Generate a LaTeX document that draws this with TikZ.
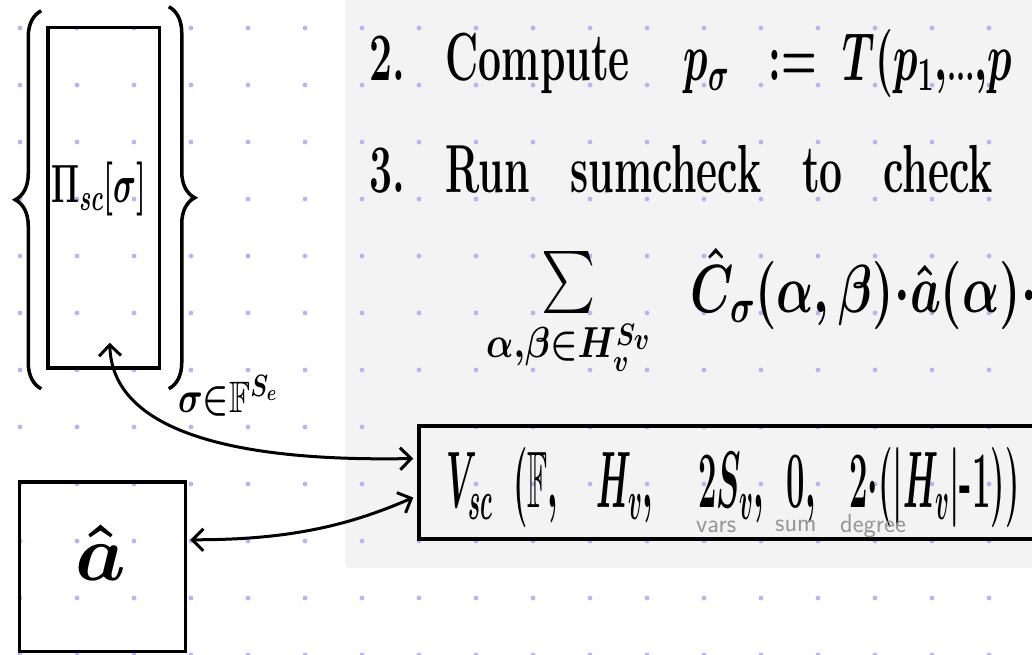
\documentclass[tikz,border=0pt]{standalone}
\usepackage{fix-cm}
\usepackage{amssymb}
\usetikzlibrary{arrows.meta, decorations.pathreplacing}

\definecolor{dotblue}{RGB}{182,182,245}
\definecolor{panelgray}{RGB}{243,243,243}
\definecolor{notegray}{RGB}{150,150,150}

\tikzstyle{box} = [
    rectangle,
    draw=black,
    line width=3.5pt,
    inner sep=0pt
]
\tikzstyle{hand} = [
    inner sep=0pt,
    anchor=base west,
    font={\fontsize{68}{68}\selectfont\bfseries\boldmath\spaceskip=1em\xspaceskip=1em\relax}
]
\tikzstyle{note} = [
    inner sep=0pt,
    anchor=base west,
    text=notegray,
    font={\fontsize{26}{26}\selectfont\sffamily}
]
\tikzstyle{curly} = [
    line width=3.5pt,
    decorate,
    decoration={brace, amplitude=26pt}
]
\tikzstyle{arrow} = [line width=3pt, line cap=round,
    {Straight Barb[length=11pt, width=22pt]}-{Straight Barb[length=11pt, width=22pt]}]

\begin{document}
\begin{tikzpicture}[x=1pt, y=-1pt]

\useasboundingbox (0,0) rectangle (1032,654);
\clip (0,0) rectangle (1032,654);

% paper, panel and dot grid
\fill[white] (0,0) rectangle (1032,654);
\fill[panelgray, rounded corners=6pt] (345,-10) rectangle (1060,568);
\foreach \i in {0,...,18}
    \foreach \j in {0,...,11}
        \fill[dotblue] (20+57*\i, 28+57*\j) circle (2.4pt);

% left column
\node (pibox) [box, minimum width=111.5pt, minimum height=340.5pt] at (103.75,197.75) {};
\node (pilabel) [hand, anchor=center, xscale=0.59, font={\fontsize{54}{54}\selectfont\boldmath}] at (99,189)
{$\Pi_{sc}[\sigma]$};

\draw [curly] ([shift={(-5pt,-19pt)}]pibox.south west) -- ([shift={(-5pt,15pt)}]pibox.north west);
\draw [curly] ([shift={(7.5pt,19pt)}]pibox.north east) -- ([shift={(7.5pt,-19pt)}]pibox.south east);

\node (setlabel) [hand, xscale=0.78, font={\fontsize{44}{44}\selectfont\boldmath}] at (178,412)
{$\sigma{\in}\mathbb{F}^{S_e}$};

\node (ahat) [box, minimum width=166pt, minimum height=169.5pt] at (102.5,566.75) {};
\node (alabel) [hand, anchor=base, font={\fontsize{80}{80}\selectfont\boldmath}] at (101,580) {$\hat{a}$};

% panel text
\node (step2) [hand, xscale=0.6] at (369,80)
{2. Compute $\;p_\sigma \mathrel{\;\;{:}{=}\;} T(p_1{,}{\scriptstyle\ldots}{,}p$};

\node (step3) [hand, xscale=0.6] at (369,192) {3. Run sumcheck to check};

\node (sumsign) [hand, xscale=0.83, font={\fontsize{62}{62}\selectfont\boldmath}] at (486,298)
{$\sum\limits_{\alpha,\beta\in H_v^{S_v}}$};
\node (sumterm) [hand, xscale=0.72] at (690,312)
{$\hat{C}_\sigma(\alpha,\beta){\cdot}\hat{a}(\alpha){\cdot}$};

\node (vsc) [box, minimum width=700pt, minimum height=113pt] at (769,482.5) {};
\node (vsctext) [hand, xscale=0.41, font={\fontsize{80}{80}\selectfont\bfseries\boldmath}] at (446,507)
{$V_{sc}\;\;(\mathbb{F},\;\;\; H_v,\,\quad 2S_v,\;\, 0,\,\;\; 2{\cdot}(|H_v|\mbox{-}1))$};

\node (vars) [note] at (696,532) {vars};
\node (sum) [note] at (775,531) {sum};
\node (degree) [note] at (840,532) {degree};

% connectors
\draw [arrow] ([shift={(-4pt,24pt)}]vsc.west) .. controls (230,462) and (112,430) .. ([shift={(6pt,27pt)}]pibox.south);
\draw [arrow] ([shift={(3pt,27pt)}]ahat.east) .. controls (290,540) and (350,525) .. ([shift={(-4pt,-15pt)}]vsc.west);

\end{tikzpicture}
\end{document}
